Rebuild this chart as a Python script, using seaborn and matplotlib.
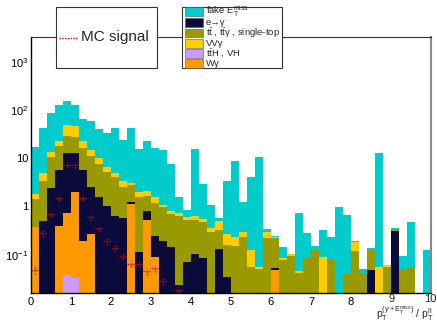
import numpy as np
import pandas as pd
import matplotlib
matplotlib.use("Agg")
import matplotlib.pyplot as plt
from matplotlib.patches import Rectangle
from matplotlib.lines import Line2D
from matplotlib.ticker import FixedLocator, FuncFormatter, LogLocator, MultipleLocator, NullFormatter
import seaborn as sns

# ---- binning: 50 bins of width 0.2 between 0 and 10 ----
n_bins = 50
x_range = (0.0, 10.0)
bin_edges = np.linspace(x_range[0], x_range[1], n_bins + 1)
bin_centers = np.round(0.5 * (bin_edges[:-1] + bin_edges[1:]), 2)

# ---- per-process yields in each bin ----
fake_met = [15.5, 36.8, 74.2, 103.9, 107.1, 80.4, 40.9, 45.2, 29.8, 26.2,
            38.0, 20.5, 38.6, 13.5, 21.0, 14.55, 13.7, 6.78, 0.86, 0.25,
            14.66, 2.34, 0.69, 0.07, 3.16, 8.41, 0.96, 4.03, 10.75, 0.037,
            0.018, 0.063, 0.002, 0.693, 0.196, 0.027, 0.236, 0.152, 0.99, 0.626,
            0.01, 0.008, 0.013, 12.64, 0.002, 0.02, 0.042, 0.424, 0.0, 0.127]
vv_gamma = [0.41, 1.44, 2.9, 5.2, 19.5, 18.6, 7.0, 3.7, 2.37, 1.42,
            0.99, 0.86, 0.37, 0.43, 0.48, 0.35, 0.11, 0.12, 0.10, 0.08,
            0.12, 0.06, 0.07, 0.18, 0.11, 0.085, 0.07, 0.07, 0.005, 0.081,
            0.011, 0.006, 0.01, 0.006, 0.0, 0.0, 0.09, 0.0, 0.0, 0.0,
            0.066, 0.0, 0.0, 0.056, 0.005, 0.0, 0.0, 0.0, 0.0, 0.0]
top_bkg = [1.03, 2.92, 8.42, 12.2, 16.4, 15.0, 10.39, 8.53, 6.0, 4.26,
           3.39, 2.0, 1.49, 1.48, 0.83, 0.955, 0.76, 0.55, 0.616, 0.448,
           0.416, 0.393, 0.29, 0.188, 0.125, 0.152, 0.23, 0.055, 0.05, 0.219,
           0.167, 0.078, 0.094, 0.041, 0.084, 0.125, 0.0, 0.078, 0.0, 0.041,
           0.12, 0.042, 0.079, 0.0, 0.055, 0.03, 0.05, 0.056, 0.0, 0.0]
e_fake_gamma = [0.0, 0.51, 2.38, 5.32, 12.28, 10.97, 5.51, 2.3, 1.6, 1.0,
                0.64, 0.57, 0.13, 0.116, 0.30, 0.155, 0.196, 0.147, 0.024, 0.072,
                0.104, 0.087, 0.0, 0.132, 0.035, 0.0, 0.0, 0.0, 0.0, 0.0,
                0.0044, 0.0, 0.0, 0.0, 0.0, 0.0, 0.0, 0.0, 0.0, 0.0,
                0.0, 0.0, 0.048, 0.0, 0.0, 0.31, 0.0, 0.0, 0.0, 0.0]
w_gamma = [0.38, 0.0, 0.0, 0.39, 0.68, 2.0, 0.196, 0.265, 0.0, 0.0,
           0.0, 0.0, 1.13, 0.0, 0.52, 0.09, 0.0, 0.0, 0.0, 0.0,
           0.0, 0.0, 0.0, 0.0, 0.0, 0.0, 0.0, 0.0, 0.0, 0.0,
           0.0476, 0.0, 0.0, 0.0, 0.0, 0.0, 0.0, 0.0, 0.0, 0.0,
           0.0, 0.0, 0.0, 0.0, 0.0, 0.0, 0.0, 0.0, 0.0, 0.0]
tth_vh = [0.0, 0.0, 0.0, 0.0, 0.038, 0.0325] + [0.0] * 44

# signal expectation (first bins only, rest empty)
signal = [0.048, 0.278, 0.71, 1.52, 7.3, 7.3, 1.52, 0.62, 0.35, 0.19,
          0.136, 0.096, 0.065, 0.064, 0.045, 0.052, 0.028, 0.0, 0.019] + [0.0] * 31

legend_labels = [
    r"fake $\mathrm{E}_{\mathrm{T}}^{\mathrm{miss}}$",
    "e\u2192\u03b3",
    r"t$\bar{\mathrm{t}}$ , t$\bar{\mathrm{t}}$" + "\u03b3 , single-top",
    "VV\u03b3",
    r"t$\bar{\mathrm{t}}$H , VH",
    "W\u03b3",
]

# stacking order, bottom to top
stack_order = ["tth_vh", "w_gamma", "e_fake_gamma", "top_bkg", "vv_gamma", "fake_met"]
colors = {
    "fake_met": "#00CCCC",
    "e_fake_gamma": "#0B0B3B",
    "top_bkg": "#999900",
    "vv_gamma": "#FFCC00",
    "tth_vh": "#CC99FF",
    "w_gamma": "#FF9900",
}
series = {
    "fake_met": fake_met, "e_fake_gamma": e_fake_gamma, "top_bkg": top_bkg,
    "vv_gamma": vv_gamma, "tth_vh": tth_vh, "w_gamma": w_gamma,
}
for k, v in series.items():
    assert len(v) == n_bins, k
assert len(signal) == n_bins

df = pd.DataFrame({"x": bin_centers})
for k in stack_order:
    df[k] = series[k]
# cumulative stack heights
cum = df[stack_order].cumsum(axis=1)
cum["x"] = df["x"]

sns.set_theme(style="white")
plt.rcParams["font.family"] = ["Liberation Sans", "DejaVu Sans"]
plt.rcParams["mathtext.fontset"] = "custom"
plt.rcParams["mathtext.rm"] = "Liberation Sans"
plt.rcParams["mathtext.it"] = "Liberation Sans:italic"
plt.rcParams["mathtext.bf"] = "Liberation Sans:bold"

W, H = 437, 322
fig = plt.figure(figsize=(W / 100, H / 100), dpi=100)
ax = fig.add_axes([31 / W, 29 / H, 400 / W, 256 / H])
ax.set_yscale("log")

# draw cumulative layers from the total downwards (each filled from the bottom)
for k in stack_order[::-1]:
    sns.histplot(data=cum, x="x", weights=k, bins=n_bins, binrange=x_range,
                 element="step", fill=True, color=colors[k], alpha=1.0,
                 linewidth=0.0, ax=ax)

# signal: dotted crosses spanning each bin
sig = np.array(signal)
mask = sig > 0
eb = ax.errorbar(bin_centers[mask], sig[mask], xerr=0.1, yerr=0.15 * sig[mask],
                 fmt="none", ecolor="#E00000", elinewidth=1.0, capsize=0)
for lc in eb[2]:
    lc.set_linestyle((0, (1, 1)))

ax.set_xlim(*x_range)
ax.set_ylim(0.0161, 3260)
ax.set_xlabel("")
ax.set_ylabel("")

# axis ticks inside, ROOT style
ax.xaxis.set_major_locator(MultipleLocator(1))
ax.xaxis.set_minor_locator(MultipleLocator(0.2))
ax.xaxis.set_major_formatter(FuncFormatter(lambda v, p: "" if v > 8.5 else f"{v:g}"))
ax.yaxis.set_major_locator(FixedLocator([0.1, 1, 10, 100, 1000]))
ax.yaxis.set_minor_locator(LogLocator(base=10, subs=np.arange(2, 10)))
ax.yaxis.set_minor_formatter(NullFormatter())
ylab = {0.1: r"$10^{-1}$", 1.0: "1", 10.0: "10", 100.0: r"$10^{2}$", 1000.0: r"$10^{3}$"}
ax.yaxis.set_major_formatter(FuncFormatter(lambda v, p: ylab.get(round(v, 3), "")))
ax.tick_params(axis="both", which="both", direction="in", colors="black",
               labelsize=8, width=0.8, top=False, right=False)
ax.tick_params(axis="x", which="major", length=6, pad=3)
ax.tick_params(axis="x", which="minor", length=3)
ax.tick_params(axis="y", which="major", length=9, pad=2)
ax.tick_params(axis="y", which="minor", length=5)

for s in ["left", "bottom"]:
    ax.spines[s].set_color("black")
    ax.spines[s].set_linewidth(1.0)
ax.spines["top"].set_color("#333333")
ax.spines["top"].set_linewidth(0.8)
ax.spines["right"].set_color("#888888")
ax.spines["right"].set_linewidth(1.5)
ax.set_axisbelow(False)

# tick labels 9 and 10 sit next to the axis title
fig.text(392 / W, 1 - 298.5 / H, "9", fontsize=8, ha="center", va="center")
fig.text(430 / W, 1 - 298.5 / H, "10", fontsize=8, ha="center", va="center")
fig.text(434 / W, 1 - 313.5 / H,
         r"$\mathrm{p}_{\mathrm{T}}^{(\gamma+\mathrm{E}_{\mathrm{T}}^{\mathrm{miss}})}$ / $\mathrm{p}_{\mathrm{T}}^{\mathrm{ll}}$",
         fontsize=7.5, ha="right", va="center")


def fig_rect(x0, y0, x1, y1, **kw):
    return Rectangle((x0 / W, 1 - y1 / H), (x1 - x0) / W, (y1 - y0) / H,
                     transform=fig.transFigure, **kw)


# signal legend box
fig.add_artist(fig_rect(56, 7, 157, 68, facecolor="white", edgecolor="#333333",
                        linewidth=0.8, zorder=10))
fig.add_artist(Line2D([59 / W, 77 / W], [1 - 37.5 / H, 1 - 37.5 / H],
                      transform=fig.transFigure, color="#E00000",
                      linestyle=(0, (1, 1)), linewidth=1.0, zorder=11))
fig.text(81 / W, 1 - 37.5 / H, "MC signal", fontsize=11, ha="left", va="center",
         zorder=11)

# background legend box
fig.add_artist(fig_rect(182, 7, 282, 68, facecolor="white", edgecolor="#333333",
                        linewidth=0.8, zorder=10))
legend_keys = ["fake_met", "e_fake_gamma", "top_bkg", "vv_gamma", "tth_vh", "w_gamma"]
row_y = [11.5, 22.5, 33.0, 43.5, 53.5, 63.5]
for key, label, yc in zip(legend_keys, legend_labels, row_y):
    fig.add_artist(fig_rect(185, yc - 4, 203, yc + 4, facecolor=colors[key],
                            edgecolor="#555555", linewidth=0.4, zorder=11))
    fig.text(206 / W, 1 - yc / H, label, fontsize=6.8, ha="left", va="center",
             zorder=11)

fig.savefig("out.png", dpi=100)
